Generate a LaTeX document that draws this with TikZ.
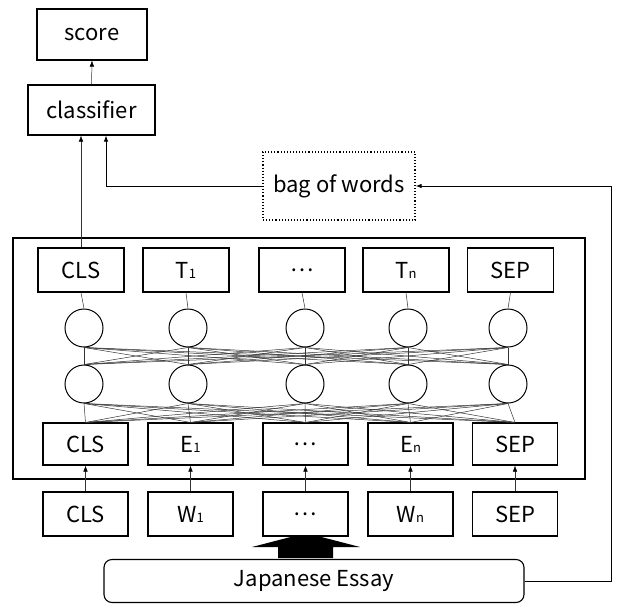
\documentclass[tikz,border=0pt]{standalone}
\usepackage{fontspec}
\setmainfont{Noto Sans CJK JP}
\usetikzlibrary{arrows.meta}
\tikzset{
  box/.style={draw=black, line width=1.1pt, fill=white, inner sep=0pt, font=\fontsize{22}{24}\selectfont},
  neuron/.style={draw=black, line width=1pt, fill=white, circle, minimum size=38pt, inner sep=0pt},
  conn/.style={draw=black!80, line width=0.5pt},
  tip/.style={-{Latex[length=6pt,width=4.5pt,color=black]}},
  link/.style={draw=black, line width=0.9pt}
}
\newcommand{\sbs}[1]{{\fontsize{13}{13}\selectfont #1}}
\begin{document}
\begin{tikzpicture}[x=1pt,y=-1pt]
\useasboundingbox (0,0) rectangle (619,603);
% top
\node[box, minimum width=110pt, minimum height=51pt] (score) at (92,34.5) {score};
\node[box, minimum width=127pt, minimum height=50pt] (cls) at (91.5,110) {classifier};
\node[box, dotted, line width=1.3pt, minimum width=152pt, minimum height=68pt] (bow) at (339,186) {bag of words};
% big box
\node[draw=black, line width=1.4pt, minimum width=572pt, minimum height=241pt, inner sep=0pt] (bert) at (299,358.5) {};
% T row
\foreach \x/\t [count=\i] in {81/CLS, 186/T\sbs{1}, 302/⋯, 406/T\sbs{n}, 510.5/SEP}
  \node[box, minimum width=86pt, minimum height=44pt] (t\i) at (\x,270) {\t};
% neurons
\foreach \x [count=\i] in {84,188,305,408,508} {
  \node[neuron] (u\i) at (\x,328) {};
  \node[neuron] (l\i) at (\x,384) {};
}
% E row
\foreach \x/\t [count=\i] in {85.5/CLS, 190.5/E\sbs{1}, 305.5/⋯, 410.5/E\sbs{n}, 515/SEP}
  \node[box, minimum width=85pt, minimum height=42pt] (e\i) at (\x,444) {\t};
% big input arrow (drawn before W row)
\fill[black] (278,558) -- (278,547) -- (252,547) -- (306,533) -- (360,547) -- (333,547) -- (333,558) -- cycle;
% W row
\foreach \x/\t [count=\i] in {85.5/CLS, 190.5/W\sbs{1}, 305.5/⋯, 410.5/W\sbs{n}, 515/SEP}
  \node[box, minimum width=85pt, minimum height=44pt] (w\i) at (\x,514) {\t};
% essay
\node[box, rounded corners=8pt, minimum width=420pt, minimum height=43pt] (essay) at (314,581) {Japanese Essay};
% connections
\foreach \i in {1,...,5} {
  \draw[conn] (t\i.south) -- (u\i.north);
  \draw[conn, tip] (w\i.north) -- (e\i.south);
  \foreach \j in {1,...,5} {
    \draw[conn] (u\i.south) -- (l\j.north);
    \draw[conn] (l\i.south) -- (e\j.north);
  }
}
\draw[conn, tip] (t1.north) -- (t1.north |- cls.south);
\draw[conn, tip] (cls.north) -- (score.south);
\draw[link, tip] (bow.west) -| ([xshift=14.5pt]cls.south);
\coordinate (rt) at (611,581);
\draw[link, tip] (essay.east) -- (rt) |- (bow.east);
\end{tikzpicture}
\end{document}
